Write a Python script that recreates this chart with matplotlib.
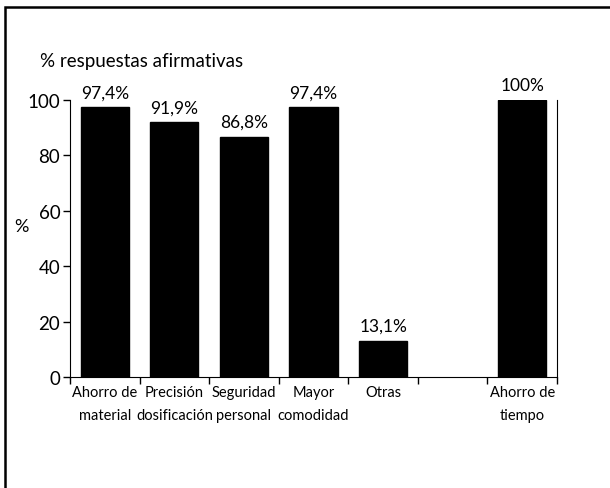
import matplotlib
matplotlib.use('Agg')
import matplotlib.pyplot as plt
from matplotlib.patches import Rectangle

categories = ['Ahorro de\nmaterial', 'Precisión\ndosificación', 'Seguridad\npersonal',
              'Mayor\ncomodidad', 'Otras', '', 'Ahorro de\ntiempo']
values = [97.4, 91.9, 86.8, 97.4, 13.1, None, 100]
value_labels = ['97,4%', '91,9%', '86,8%', '97,4%', '13,1%', '', '100%']
yticks = [0, 20, 40, 60, 80, 100]

plt.rcParams['font.family'] = ['Lato', 'DejaVu Sans']

fig = plt.figure(figsize=(6.1, 4.89), dpi=100)
ax = fig.add_axes([70 / 610, 1 - 378 / 489, 487 / 610, 277 / 489])

x = list(range(len(categories)))
for i, v in enumerate(values):
    if v is None:
        continue
    ax.bar(i, v, width=0.69, color='black', edgecolor='black')
    ax.annotate(value_labels[i], (i, v), xytext=(0, 5), textcoords='offset points',
                ha='center', va='bottom', fontsize=12.5)

ax.set_xlim(-0.5, 6.5)
ax.set_ylim(0, 100)
ax.set_yticks(yticks)
ax.set_yticklabels([str(t) for t in yticks], fontsize=13.5)
ax.set_xticks([i - 0.5 for i in range(len(categories) + 1)])
ax.set_xticklabels([])
ax.set_xticks(x, minor=True)
ax.set_xticklabels(categories, minor=True, fontsize=10.5, linespacing=1.75)
ax.tick_params(axis='x', which='minor', length=0, pad=6)
ax.tick_params(axis='both', which='major', length=5, width=1, direction='out')
ax.tick_params(axis='y', pad=2)

ax.spines['top'].set_visible(False)
ax.spines['right'].set_linewidth(0.8)

fig.text(40 / 610, 1 - 62 / 489, '% respuestas afirmativas', fontsize=13.5, va='center')
fig.text(14 / 610, 1 - 227 / 489, '%', fontsize=13, va='center')

fig.patches.append(Rectangle((5 / 610, -0.1), 1.2, 1.1 - 8 / 489, transform=fig.transFigure,
                             fill=False, edgecolor='black', linewidth=1.8))

fig.savefig('out.png', dpi=100)
